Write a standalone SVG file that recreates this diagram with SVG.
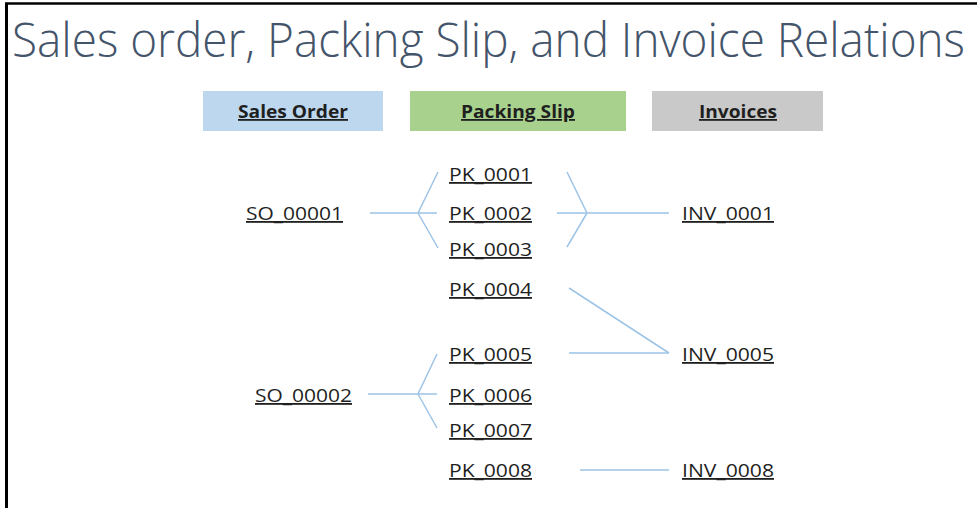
<svg xmlns="http://www.w3.org/2000/svg" width="977" height="508" viewBox="0 0 977 508">
<style>
.title{font-family:"Open Sans","Noto Sans","Liberation Sans",sans-serif;font-weight:300;font-size:48px;fill:#44546A}
.hdr{font-family:"Open Sans","Noto Sans","Liberation Sans",sans-serif;font-weight:700;font-size:18px;fill:#1F1F1F;text-anchor:middle;text-decoration:underline}
.lbl{font-family:"Open Sans","Noto Sans","Liberation Sans",sans-serif;font-size:18px;fill:#1F1F1F;text-decoration:underline}
.con line{stroke:#9DC3E6;stroke-width:1.5;fill:none}
</style>
<rect width="977" height="508" fill="#FFFFFF"/>
<line x1="6.5" y1="3" x2="6.5" y2="508" stroke="#000" stroke-width="3"/>
<line x1="5" y1="3.5" x2="977" y2="3.5" stroke="#000" stroke-width="2.5"/>
<text class="title" x="12" y="57" textLength="953" lengthAdjust="spacingAndGlyphs">Sales order, Packing Slip, and Invoice Relations</text>

<g id="hdr-sales-order"><rect x="203" y="91" width="180" height="40" fill="#BDD7EE"/><text class="hdr" x="293" y="118" textLength="110" lengthAdjust="spacingAndGlyphs">Sales Order</text></g>
<g id="hdr-packing-slip"><rect x="410" y="91" width="216" height="40" fill="#A9D18E"/><text class="hdr" x="518" y="118" textLength="114" lengthAdjust="spacingAndGlyphs">Packing Slip</text></g>
<g id="hdr-invoices"><rect x="652" y="91" width="171" height="40" fill="#C9C9C9"/><text class="hdr" x="738" y="118" textLength="78" lengthAdjust="spacingAndGlyphs">Invoices</text></g>

<g class="con" id="connectors">
<line x1="370" y1="213" x2="437" y2="213"/>
<line x1="418" y1="213" x2="438" y2="172"/>
<line x1="418" y1="213" x2="438" y2="248"/>
<line x1="557" y1="213" x2="669" y2="213"/>
<line x1="587" y1="213" x2="567" y2="172"/>
<line x1="587" y1="213" x2="567" y2="247"/>
<line x1="569" y1="288" x2="669" y2="353"/>
<line x1="569" y1="353" x2="669" y2="353"/>
<line x1="368" y1="394" x2="437" y2="394"/>
<line x1="418" y1="394" x2="437" y2="354"/>
<line x1="418" y1="394" x2="437" y2="428"/>
<line x1="580" y1="470" x2="669" y2="470"/>
</g>

<g id="so-00001"><text class="lbl" x="246" y="220" textLength="97" lengthAdjust="spacingAndGlyphs">SO_00001</text></g>
<g id="so-00002"><text class="lbl" x="255" y="402" textLength="97" lengthAdjust="spacingAndGlyphs">SO_00002</text></g>
<g id="pk-0001"><text class="lbl" x="449" y="181" textLength="83" lengthAdjust="spacingAndGlyphs">PK_0001</text></g>
<g id="pk-0002"><text class="lbl" x="449" y="220" textLength="83" lengthAdjust="spacingAndGlyphs">PK_0002</text></g>
<g id="pk-0003"><text class="lbl" x="449" y="256" textLength="83" lengthAdjust="spacingAndGlyphs">PK_0003</text></g>
<g id="pk-0004"><text class="lbl" x="449" y="296" textLength="83" lengthAdjust="spacingAndGlyphs">PK_0004</text></g>
<g id="pk-0005"><text class="lbl" x="449" y="361" textLength="83" lengthAdjust="spacingAndGlyphs">PK_0005</text></g>
<g id="pk-0006"><text class="lbl" x="449" y="402" textLength="83" lengthAdjust="spacingAndGlyphs">PK_0006</text></g>
<g id="pk-0007"><text class="lbl" x="449" y="437" textLength="83" lengthAdjust="spacingAndGlyphs">PK_0007</text></g>
<g id="pk-0008"><text class="lbl" x="449" y="477" textLength="83" lengthAdjust="spacingAndGlyphs">PK_0008</text></g>
<g id="inv-0001"><text class="lbl" x="682" y="220" textLength="92" lengthAdjust="spacingAndGlyphs">INV_0001</text></g>
<g id="inv-0005"><text class="lbl" x="682" y="361" textLength="92" lengthAdjust="spacingAndGlyphs">INV_0005</text></g>
<g id="inv-0008"><text class="lbl" x="682" y="477" textLength="92" lengthAdjust="spacingAndGlyphs">INV_0008</text></g>
</svg>
